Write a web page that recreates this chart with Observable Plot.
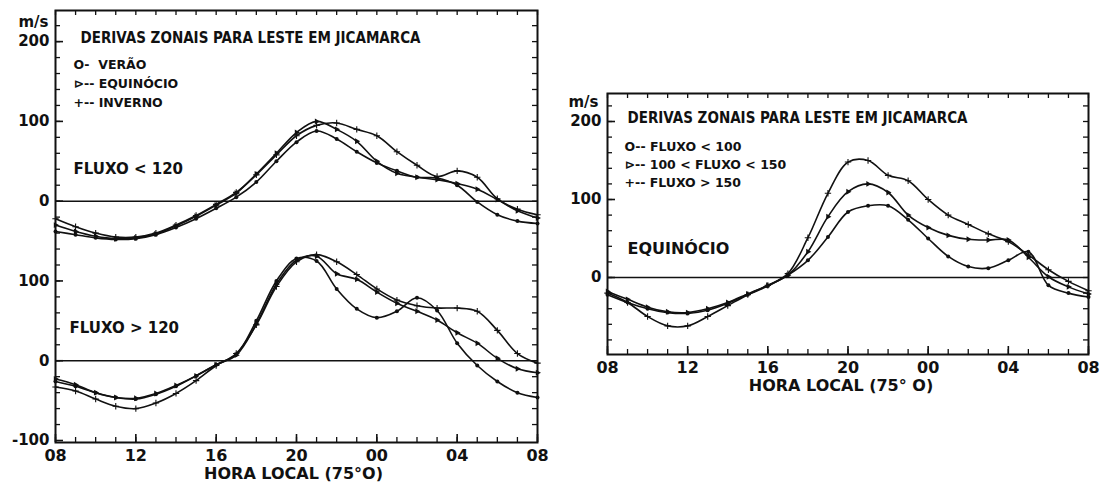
<!DOCTYPE html>
<html>
<head>
<meta charset="utf-8">
<script src="https://cdn.jsdelivr.net/npm/d3@7"></script>
<script src="https://cdn.jsdelivr.net/npm/@observablehq/plot@0.6"></script>
<style>
  body { margin: 0; background: #fff; }
  #wrap { position: relative; width: 1101px; height: 492px; overflow: hidden; background: #fff; }
  #left { position: absolute; left: 0; top: 0; }
  #right { position: absolute; left: 551px; top: 0; }
</style>
</head>
<body>
<div id="wrap"><div id="left"></div><div id="right"></div></div>
<script>
// ---------- DATA ----------
// hours after 08 LT (0 = 08h, 24 = 08h next day)
const hours = [0,1,2,3,4,5,6,7,8,9,10,11,12,13,14,15,16,17,18,19,20,21,22,23,24];
const xTickValues = [0,4,8,12,16,20,24];
const xTickLabels = ["08","12","16","20","00","04","08"];

// Left panel, FLUXO < 120 (upper group)
const veraoBaixo    = [-38,-42,-46,-48,-47,-42,-33,-22,-9,5,24,50,74,88,78,62,48,38,30,29,20,-1,-17,-25,-28];
const equinocioBaixo= [-30,-38,-44,-47,-46,-41,-31,-19,-5,10,34,60,86,100,90,75,50,35,30,27,22,15,2,-12,-21];
const invernoBaixo  = [-22,-32,-40,-45,-45,-40,-30,-18,-4,11,33,58,82,95,98,90,82,62,45,31,38,30,3,-10,-17];

// Left panel, FLUXO > 120 (lower group)
const veraoAlto     = [-26,-32,-40,-46,-48,-42,-32,-19,-5,8,50,100,128,125,90,65,54,62,79,63,22,-6,-26,-40,-46];
const equinocioAlto = [-23,-30,-40,-46,-47,-41,-31,-19,-5,7,46,96,126,131,109,102,86,72,62,51,35,22,3,-10,-15];
const invernoAlto   = [-33,-38,-48,-57,-60,-53,-41,-25,-6,9,45,93,124,133,124,108,90,76,69,66,66,62,38,9,-3];

// Right panel, EQUINÓCIO
const fluxoMenor100 = [-22,-32,-40,-45,-46,-42,-33,-22,-11,3,22,52,84,92,92,74,50,27,14,12,22,33,-10,-20,-25];
const fluxo100a150  = [-18,-28,-38,-44,-45,-40,-32,-21,-10,3,33,78,110,120,109,80,64,54,49,48,48,26,1,-12,-21];
const fluxoMaior150 = [-20,-32,-50,-62,-62,-50,-36,-22,-10,5,51,108,148,150,131,124,100,80,68,56,46,29,10,-5,-17];

// Y axis tick labels
const leftYTicks  = [-100,0,100,200,300,400];
const leftYLabels = ["-100","0","100","0","100","200"];
const leftGroupOffset = 200;      // upper group drawn 200 m/s above the lower group
const rightYTicks  = [0,100,200];
const rightYLabels = ["0","100","200"];

const titleText = "DERIVAS ZONAIS PARA LESTE EM JICAMARCA";
const leftLegend  = ["O-  VERÃO", "⊳-- EQUINÓCIO", "+-- INVERNO"];
const rightLegend = ["O-- FLUXO < 100", "⊳-- 100 < FLUXO < 150", "+-- FLUXO > 150"];

// ---------- HELPERS ----------
const INK = "#111";
const NUM_FONT = "DejaVu Sans";
const TITLE_FONT = "'DejaVu Sans Condensed', 'Liberation Sans', sans-serif";

function series(vals, kind, offset = 0) {
  const data = hours.map((h, i) => ({h, v: vals[i] + offset}));
  const line = Plot.line(data, {x: "h", y: "v", curve: "catmull-rom", stroke: INK, strokeWidth: 1.6});
  let dots;
  if (kind === "circle") dots = Plot.dot(data, {x: "h", y: "v", r: 2, fill: INK, stroke: "none"});
  else if (kind === "triangle") dots = Plot.dot(data, {x: "h", y: "v", symbol: "triangle", rotate: 90, r: 2.2, fill: INK, stroke: "none"});
  else dots = Plot.dot(data, {x: "h", y: "v", symbol: "plus", r: 2.2, stroke: INK, strokeWidth: 1.1, fill: "none"});
  return [line, dots];
}

// inward frame ticks, lengths converted from pixels to data units
function frameTicks(yDomain, plotW, plotH, yMinor, yMajor) {
  const [y0, y1] = yDomain;
  const uy = (y1 - y0) / plotH;   // data units per pixel (y)
  const ux = 24 / plotW;          // hours per pixel (x)
  const s = {stroke: INK, strokeWidth: 1.3};
  return [
    Plot.ruleX(hours, {x: d => d, y1: y0, y2: y0 + 5 * uy, ...s}),
    Plot.ruleX(xTickValues, {x: d => d, y1: y0, y2: y0 + 8 * uy, ...s, strokeWidth: 1.6}),
    Plot.ruleX(hours, {x: d => d, y1: y1, y2: y1 - 5 * uy, ...s}),
    Plot.ruleY(yMinor, {y: d => d, x1: 0, x2: 5 * ux, ...s}),
    Plot.ruleY(yMajor, {y: d => d, x1: 0, x2: 8 * ux, ...s, strokeWidth: 1.6}),
    Plot.ruleY(yMinor, {y: d => d, x1: 24, x2: 24 - 5 * ux, ...s})
  ];
}

function note(text, anchor, dx, dy, size, opts = {}) {
  return Plot.text([text], {frameAnchor: anchor, dx, dy, fontSize: size, fill: INK,
    fontWeight: "bold", fontFamily: NUM_FONT, textAnchor: "start", ...opts});
}

// ---------- LEFT PANEL ----------
{
  const W = 550, H = 492, mL = 55, mR = 13, mT = 10, mB = 50;
  const plotW = W - mL - mR, plotH = H - mT - mB;
  const yDomain = [-102.5, 439];
  const yMinor = d3.range(-80, 440, 20);
  const chart = Plot.plot({
    width: W, height: H, marginLeft: mL, marginRight: mR, marginTop: mT, marginBottom: mB,
    style: {background: "#fff", color: INK, fontFamily: NUM_FONT, fontWeight: "bold"},
    x: {domain: [0, 24]},
    y: {domain: yDomain},
    marks: [
      Plot.ruleY([0, leftGroupOffset], {stroke: INK, strokeWidth: 1.5}),
      ...series(veraoBaixo, "circle", leftGroupOffset),
      ...series(equinocioBaixo, "triangle", leftGroupOffset),
      ...series(invernoBaixo, "plus", leftGroupOffset),
      ...series(veraoAlto, "circle"),
      ...series(equinocioAlto, "triangle"),
      ...series(invernoAlto, "plus"),
      ...frameTicks(yDomain, plotW, plotH, yMinor, leftYTicks),
      Plot.frame({stroke: INK, strokeWidth: 2}),
      Plot.axisY({ticks: leftYTicks, tickSize: 0, tickPadding: 6, fontSize: 15, label: null,
        tickFormat: d => leftYLabels[leftYTicks.indexOf(d)]}),
      Plot.axisX({ticks: xTickValues, tickSize: 0, tickPadding: 7, fontSize: 16, label: null,
        tickFormat: d => xTickLabels[xTickValues.indexOf(d)]}),
      note("m/s", "top-left", -22, 6, 15, {textAnchor: "middle"}),
      note(titleText, "top-left", 25, 22, 15, {fontFamily: TITLE_FONT}),
      note(leftLegend[0], "top-left", 18, 50, 12.5),
      note(leftLegend[1], "top-left", 18, 69, 12.5),
      note(leftLegend[2], "top-left", 18, 88, 12.5),
      note("FLUXO < 120", "top-left", 18, 153, 15),
      note("FLUXO > 120", "top-left", 14, 312, 15),
      note("HORA LOCAL (75°O)", "bottom", -3, 36, 16, {textAnchor: "middle"})
    ]
  });
  document.getElementById("left").appendChild(chart);
}

// ---------- RIGHT PANEL ----------
{
  const W = 550, H = 492, mL = 56, mR = 13, mT = 93, mB = 138;
  const plotW = W - mL - mR, plotH = H - mT - mB;
  const yDomain = [-98.7, 235.9];
  const yMinor = d3.range(-80, 236, 20);
  const chart = Plot.plot({
    width: W, height: H, marginLeft: mL, marginRight: mR, marginTop: mT, marginBottom: mB,
    style: {background: "#fff", color: INK, fontFamily: NUM_FONT, fontWeight: "bold"},
    x: {domain: [0, 24]},
    y: {domain: yDomain},
    marks: [
      Plot.ruleY([0], {stroke: INK, strokeWidth: 1.5}),
      ...series(fluxoMenor100, "circle"),
      ...series(fluxo100a150, "triangle"),
      ...series(fluxoMaior150, "plus"),
      ...frameTicks(yDomain, plotW, plotH, yMinor, rightYTicks),
      Plot.frame({stroke: INK, strokeWidth: 2}),
      Plot.axisY({ticks: rightYTicks, tickSize: 0, tickPadding: 6, fontSize: 15, label: null,
        tickFormat: d => rightYLabels[rightYTicks.indexOf(d)]}),
      Plot.axisX({ticks: xTickValues, tickSize: 0, tickPadding: 7, fontSize: 16, label: null,
        tickFormat: d => xTickLabels[xTickValues.indexOf(d)]}),
      note("m/s", "top-left", -24, 3, 15, {textAnchor: "middle"}),
      note(titleText, "top-left", 20, 19, 15, {fontFamily: TITLE_FONT}),
      note(rightLegend[0], "top-left", 17, 49, 12.5),
      note(rightLegend[1], "top-left", 17, 67, 12.5),
      note(rightLegend[2], "top-left", 17, 85, 12.5),
      note("EQUINÓCIO", "top-left", 20, 149, 16),
      note("HORA LOCAL (75° O)", "bottom", -7, 36, 16, {textAnchor: "middle"})
    ]
  });
  document.getElementById("right").appendChild(chart);
}
</script>
</body>
</html>
